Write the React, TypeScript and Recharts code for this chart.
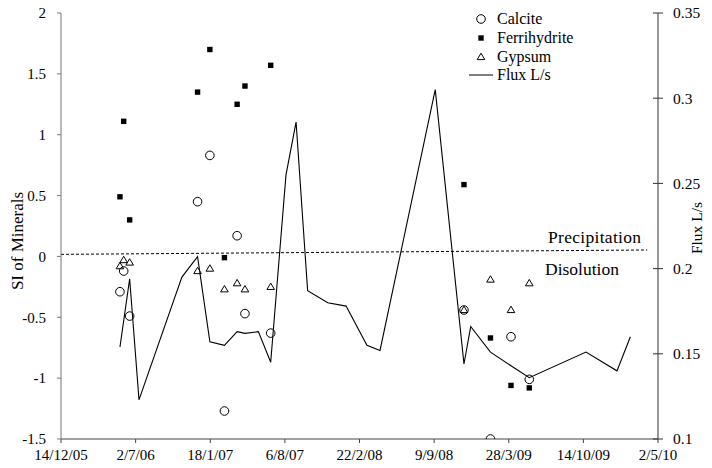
import React from 'react';
import { ComposedChart, Scatter, Line, XAxis, YAxis } from 'recharts';

document.body.style.margin = '0';

const FONT = '"Liberation Serif", "Times New Roman", serif';

// x axis tick labels (one every 200 days)
const tickLabels = ['14/12/05', '2/7/06', '18/1/07', '6/8/07', '22/2/08', '9/9/08', '28/3/09', '14/10/09', '2/5/10'];

// sampling dates for the saturation indices
const sampleDates = [
  '21/5/06', '31/5/06', '16/6/06', '15/12/06', '17/1/07', '25/2/07', '31/3/07',
  '21/4/07', '29/6/07', '28/11/08', '7/2/09', '3/4/09', '22/5/09'
];
const calcite = [-0.29, -0.12, -0.49, 0.45, 0.83, -1.27, 0.17, -0.47, -0.63, -0.44, -1.5, -0.66, -1.01];
const ferrihydrite = [0.49, 1.11, 0.3, 1.35, 1.7, -0.01, 1.25, 1.4, 1.57, 0.59, -0.67, -1.06, -1.08];
const gypsum = [-0.08, -0.03, -0.05, -0.12, -0.1, -0.27, -0.22, -0.27, -0.25, -0.44, -0.19, -0.44, -0.22];

// flux measurements
const fluxDates = [
  '21/5/06', '16/6/06', '11/7/06', '3/11/06', '15/12/06', '17/1/07', '25/2/07', '31/3/07',
  '21/4/07', '27/5/07', '29/6/07', '9/8/07', '5/9/07', '6/10/07', '29/11/07', '17/1/08',
  '13/3/08', '17/4/08', '12/9/08', '28/11/08', '16/12/08', '7/2/09', '3/4/09', '22/5/09',
  '21/10/09', '12/1/10', '17/2/10'
];
const fluxValues = [
  0.154, 0.194, 0.123, 0.195, 0.207, 0.157, 0.155, 0.163,
  0.162, 0.163, 0.145, 0.255, 0.286, 0.187, 0.18, 0.178,
  0.155, 0.152, 0.305, 0.144, 0.166, 0.151, 0.143, 0.136,
  0.151, 0.14, 0.16
];

// precipitation / dissolution boundary
const boundaryDates = ['14/12/05', '3/4/10'];
const boundaryValues = [0.017, 0.053];

const siTicks = [-1.5, -1, -0.5, 0, 0.5, 1, 1.5, 2];
const fluxTicks = [0.1, 0.15, 0.2, 0.25, 0.3, 0.35];

const toDay = (s: string) => {
  const [d, m, y] = s.split('/').map(Number);
  return Math.round((Date.UTC(2000 + y, m - 1, d) - Date.UTC(2005, 11, 14)) / 86400000);
};

const xTicks = tickLabels.map(toDay);
const labelByDay: Record<number, string> = {};
tickLabels.forEach((l, i) => { labelByDay[xTicks[i]] = l; });

const siSeries = (vals: number[]) => sampleDates.map((d, i) => ({ day: toDay(d), si: vals[i] }));
const calciteData = siSeries(calcite);
const ferriData = siSeries(ferrihydrite);
const gypsumData = siSeries(gypsum);
const fluxData = fluxDates.map((d, i) => ({ day: toDay(d), flux: fluxValues[i] }));
const boundaryData = boundaryDates.map((d, i) => ({ day: toDay(d), si: boundaryValues[i] }));

const CircleMark = (p: any) => <circle cx={p.cx} cy={p.cy} r={4.3} fill="none" stroke="#000" strokeWidth={1} />;
const SquareMark = (p: any) => <rect x={p.cx - 2.7} y={p.cy - 2.7} width={5.4} height={5.4} fill="#000" />;
const TriangleMark = (p: any) => (
  <path d={`M${p.cx},${p.cy - 3.8} L${p.cx + 3.8},${p.cy + 2.6} L${p.cx - 3.8},${p.cy + 2.6} Z`} fill="none" stroke="#000" strokeWidth={1} />
);

// serif tick labels
const XTick = ({ x, y, payload }: any) => (
  <text x={x} y={y} dy="0.75em" textAnchor="middle" fill="#000" style={{ fontFamily: FONT, fontSize: 15 }}>
    {labelByDay[payload.value] ?? ''}
  </text>
);
const LeftTick = ({ x, y, payload }: any) => (
  <text x={x} y={y} dy="0.35em" textAnchor="end" fill="#000" style={{ fontFamily: FONT, fontSize: 15 }}>
    {String(payload.value)}
  </text>
);
// right axis ticks cross the axis line, so the mark is drawn here
const RightTick = ({ x, y, payload }: any) => (
  <g>
    <line x1={x - 19} y1={y} x2={x - 9} y2={y} stroke="#333" />
    <text x={x + 1} y={y} dy="0.35em" textAnchor="start" fill="#000" style={{ fontFamily: FONT, fontSize: 15.5 }}>
      {String(payload.value)}
    </text>
  </g>
);

const LegendBox = () => {
  const row: React.CSSProperties = { display: 'flex', alignItems: 'center', height: 18.7 };
  const icon = (el: React.ReactNode) => (
    <svg width={26} height={12} style={{ marginRight: 2 }}>{el}</svg>
  );
  return (
    <div style={{ position: 'absolute', top: 10, left: 469, fontFamily: FONT, fontSize: 16, color: '#000', lineHeight: '18px' }}>
      <div style={row}>{icon(<circle cx={12} cy={6} r={4.3} fill="none" stroke="#000" />)}Calcite</div>
      <div style={row}>{icon(<rect x={9.3} y={3.3} width={5.4} height={5.4} fill="#000" />)}Ferrihydrite</div>
      <div style={row}>{icon(<path d="M12,2.2 L15.8,8.6 L8.2,8.6 Z" fill="none" stroke="#000" />)}Gypsum</div>
      <div style={row}>{icon(<line x1={0} y1={6} x2={24} y2={6} stroke="#000" />)}Flux L/s</div>
    </div>
  );
};

export default function App() {
  return (
    <div style={{ position: 'relative', width: 712, height: 468, background: '#fff', fontFamily: FONT }}>
      <ComposedChart width={712} height={468} margin={{ top: 13, right: 0, left: 0, bottom: 0 }}>
        <XAxis
          type="number"
          dataKey="day"
          domain={[0, 1600]}
          ticks={xTicks}
          tick={<XTick />}
          tickSize={4}
          tickMargin={6}
          height={29}
          stroke="#444"
          interval={0}
        />
        <YAxis
          yAxisId="left"
          dataKey="si"
          type="number"
          domain={[-1.5, 2]}
          ticks={siTicks}
          tick={<LeftTick />}
          tickSize={4}
          tickMargin={11}
          width={61}
          stroke="#777"
          allowDataOverflow
          interval={0}
        />
        <YAxis
          yAxisId="right"
          orientation="right"
          dataKey="flux"
          type="number"
          domain={[0.1, 0.35]}
          ticks={fluxTicks}
          tick={<RightTick />}
          tickLine={false}
          tickSize={5}
          tickMargin={9}
          width={54}
          stroke="#333"
          allowDataOverflow
          interval={0}
        />
        <Line
          yAxisId="left"
          data={boundaryData}
          dataKey="si"
          stroke="#000"
          strokeWidth={1}
          strokeDasharray="3 2"
          dot={false}
          activeDot={false}
          isAnimationActive={false}
          legendType="none"
        />
        <Line
          yAxisId="right"
          data={fluxData}
          dataKey="flux"
          name="Flux L/s"
          stroke="#000"
          strokeWidth={1.1}
          dot={false}
          activeDot={false}
          isAnimationActive={false}
        />
        <Scatter yAxisId="left" data={calciteData} dataKey="si" name="Calcite" shape={CircleMark} isAnimationActive={false} />
        <Scatter yAxisId="left" data={ferriData} dataKey="si" name="Ferrihydrite" shape={SquareMark} isAnimationActive={false} />
        <Scatter yAxisId="left" data={gypsumData} dataKey="si" name="Gypsum" shape={TriangleMark} isAnimationActive={false} />
      </ComposedChart>
      <LegendBox />
      <div
        style={{
          position: 'absolute', left: 18, top: 241, fontSize: 17,
          transform: 'translate(-50%, -50%) rotate(-90deg)', whiteSpace: 'nowrap'
        }}
      >
        SI of Minerals
      </div>
      <div
        style={{
          position: 'absolute', left: 697, top: 228, fontSize: 15.5,
          transform: 'translate(-50%, -50%) rotate(-90deg)', whiteSpace: 'nowrap'
        }}
      >
        Flux L/s
      </div>
      <div style={{ position: 'absolute', left: 548, top: 227, fontSize: 17.5, letterSpacing: 0.3 }}>
        Precipitation
      </div>
      <div style={{ position: 'absolute', left: 545, top: 259, fontSize: 17.5 }}>
        Disolution
      </div>
    </div>
  );
}
